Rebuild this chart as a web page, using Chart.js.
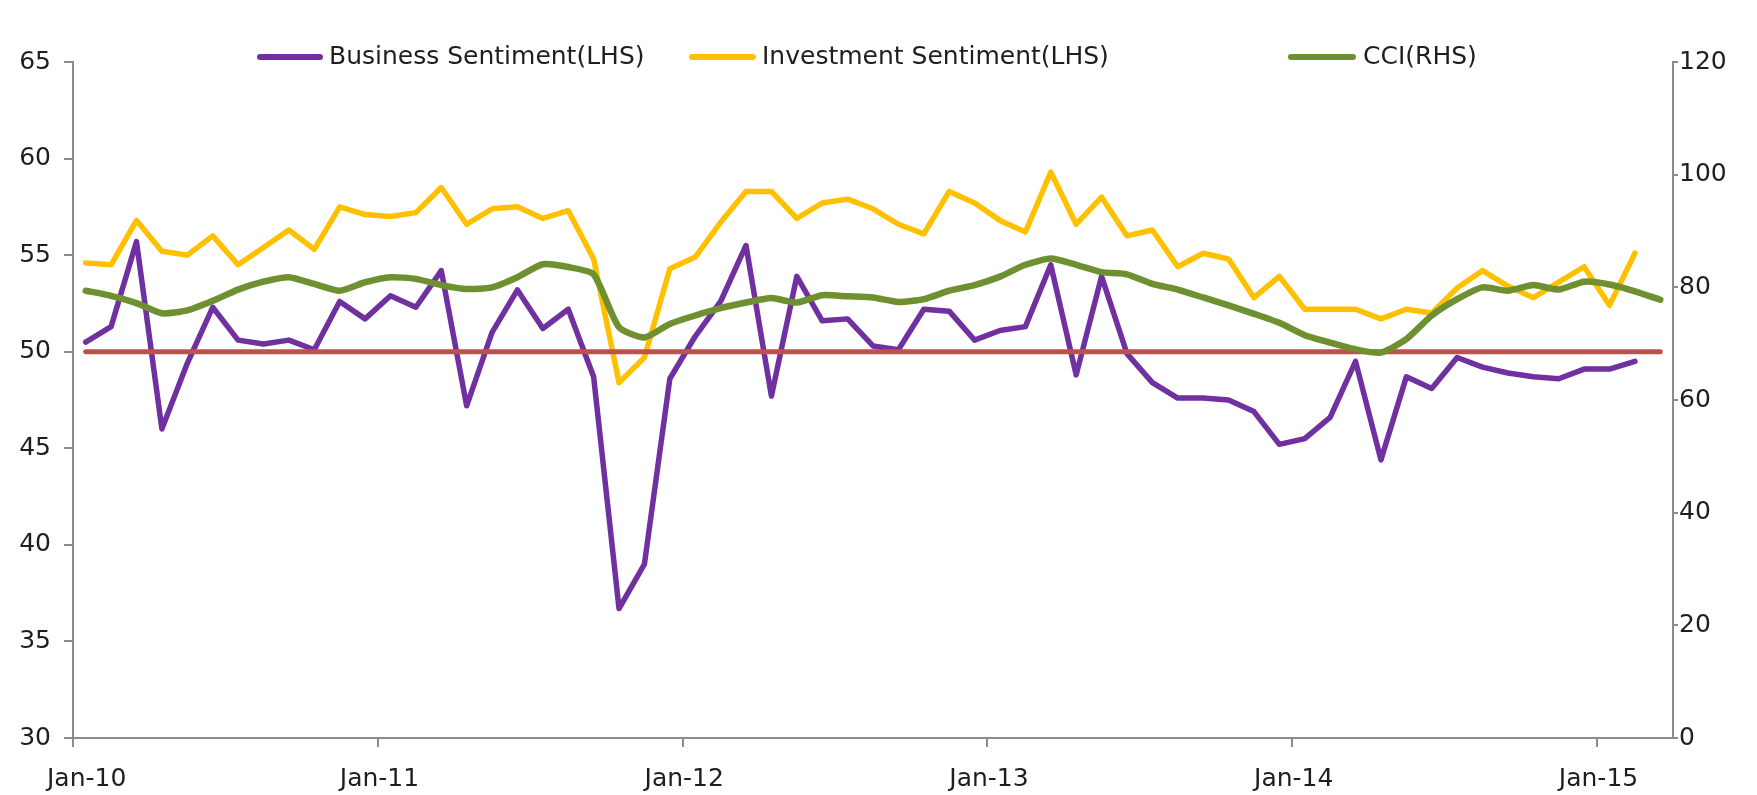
<!DOCTYPE html>
<html>
<head>
<meta charset="utf-8">
<title>Sentiment indices</title>
<script src="https://cdn.jsdelivr.net/npm/chart.js@4.4.1/dist/chart.umd.min.js"></script>
<style>
  html, body { margin: 0; padding: 0; background: #fff; }
  #wrap { width: 1757px; height: 795px; position: relative; }
</style>
</head>
<body>
<div id="wrap"><canvas id="sentimentChart"></canvas></div>
<script>
// months Jan-10 .. Mar-15
const monthNames = ['Jan', 'Feb', 'Mar', 'Apr', 'May', 'Jun', 'Jul', 'Aug', 'Sep', 'Oct', 'Nov', 'Dec'];
const yearCodes = ['10', '11', '12', '13', '14', '15'];
const months = [];
yearCodes.forEach(y => monthNames.forEach(m => months.push(m + '-' + y)));
months.splice(months.indexOf('Mar-15') + 1);

const businessSentiment = [
  50.5, 51.3, 55.7, 46.0, 49.4, 52.3, 50.6, 50.4, 50.6, 50.1,
  52.6, 51.7, 52.9, 52.3, 54.2, 47.2, 51.0, 53.2, 51.2, 52.2,
  48.7, 36.7, 39.0, 48.6, 50.8, 52.6, 55.5, 47.7, 53.9, 51.6,
  51.7, 50.3, 50.1, 52.2, 52.1, 50.6, 51.1, 51.3, 54.5, 48.8,
  53.9, 49.9, 48.4, 47.6, 47.6, 47.5, 46.9, 45.2, 45.5, 46.6,
  49.5, 44.4, 48.7, 48.1, 49.7, 49.2, 48.9, 48.7, 48.6, 49.1,
  49.1, 49.5
];

const investmentSentiment = [
  54.6, 54.5, 56.8, 55.2, 55.0, 56.0, 54.5, 55.4, 56.3, 55.3,
  57.5, 57.1, 57.0, 57.2, 58.5, 56.6, 57.4, 57.5, 56.9, 57.3,
  54.8, 48.4, 49.7, 54.3, 54.9, 56.7, 58.3, 58.3, 56.9, 57.7,
  57.9, 57.4, 56.6, 56.1, 58.3, 57.7, 56.8, 56.2, 59.3, 56.6,
  58.0, 56.0, 56.3, 54.4, 55.1, 54.8, 52.8, 53.9, 52.2, 52.2,
  52.2, 51.7, 52.2, 52.0, 53.3, 54.2, 53.4, 52.8, 53.6, 54.4,
  52.4, 55.1
];

const cci = [
  79.4, 78.5, 77.2, 75.4, 75.9, 77.6, 79.6, 81.0, 81.8, 80.6,
  79.4, 80.9, 81.8, 81.5, 80.4, 79.7, 80.0, 81.8, 84.1, 83.6,
  82.3, 72.9, 71.1, 73.5, 75.0, 76.3, 77.3, 78.1, 77.3, 78.6,
  78.4, 78.2, 77.4, 77.9, 79.4, 80.4, 81.9, 84.0, 85.1, 84.0,
  82.7, 82.3, 80.6, 79.6, 78.2, 76.8, 75.3, 73.7, 71.5, 70.2,
  69.0, 68.4, 70.8, 75.0, 77.9, 80.0, 79.4, 80.4, 79.6, 81.0,
  80.5, 79.3, 77.8
];

// expansion / contraction threshold
const neutralLevel = 50;

const leftTicks = [30, 35, 40, 45, 50, 55, 60, 65];
const rightTicks = [0, 20, 40, 60, 80, 100, 120];

const PURPLE = '#7030a0';
const GOLD = '#ffc000';
const OLIVE = '#6f9030';
const RED = '#c0504d';
const AXIS = '#8c8c8c';
const TEXT = '#1e1e1e';
const FONT = { family: 'DejaVu Sans', size: 25 };

// legend laid out like the Excel original: fixed slots, fixed order
const legendOrder = ['Business Sentiment(LHS)', 'Investment Sentiment(LHS)', 'CCI(RHS)'];
const legendSlots = [
  { lineFrom: 260, lineTo: 320, textX: 329 },
  { lineFrom: 692, lineTo: 753, textX: 762 },
  { lineFrom: 1291, lineTo: 1353, textX: 1363 }
];

const excelLegend = {
  id: 'excelLegend',
  afterDraw(chart) {
    const ctx = chart.ctx;
    const y = 57;
    legendOrder.forEach((name, k) => {
      const ds = chart.data.datasets.find(d => d.label === name);
      const s = legendSlots[k];
      ctx.save();
      ctx.strokeStyle = ds.borderColor;
      ctx.lineWidth = 6;
      ctx.lineCap = 'round';
      ctx.beginPath();
      ctx.moveTo(s.lineFrom, y);
      ctx.lineTo(s.lineTo, y);
      ctx.stroke();
      ctx.fillStyle = TEXT;
      ctx.font = FONT.size + 'px ' + FONT.family;
      ctx.textBaseline = 'middle';
      ctx.fillText(ds.label, s.textX, y);
      ctx.restore();
    });
  }
};

new Chart(document.getElementById('sentimentChart'), {
  type: 'line',
  data: {
    labels: months,
    datasets: [
      {
        label: 'CCI(RHS)',
        data: cci,
        yAxisID: 'y1',
        borderColor: OLIVE,
        borderWidth: 6.5,
        tension: 0.2,
        order: 0
      },
      {
        label: '',
        data: months.map(() => neutralLevel),
        yAxisID: 'y',
        borderColor: RED,
        borderWidth: 5,
        order: 1
      },
      {
        label: 'Business Sentiment(LHS)',
        data: businessSentiment,
        yAxisID: 'y',
        borderColor: PURPLE,
        borderWidth: 5.5,
        order: 2
      },
      {
        label: 'Investment Sentiment(LHS)',
        data: investmentSentiment,
        yAxisID: 'y',
        borderColor: GOLD,
        borderWidth: 5.5,
        order: 3
      }
    ]
  },
  options: {
    responsive: true,
    maintainAspectRatio: false,
    animation: false,
    devicePixelRatio: 1,
    layout: { padding: { top: 62, left: 0, right: 0, bottom: 0 } },
    elements: {
      point: { radius: 0 },
      line: { tension: 0, borderJoinStyle: 'round', borderCapStyle: 'round' }
    },
    plugins: {
      legend: { display: false },
      tooltip: { enabled: false }
    },
    scales: {
      x: {
        type: 'category',
        offset: true,
        afterFit: s => { s.height = 57; },
        grid: {
          offset: true,
          drawOnChartArea: false,
          tickLength: 9,
          lineWidth: 2,
          color: c => (months[c.index] && months[c.index].startsWith('Jan')) ? AXIS : 'rgba(0,0,0,0)'
        },
        border: { color: AXIS, width: 2 },
        ticks: {
          autoSkip: false,
          maxRotation: 0,
          padding: 17,
          labelOffset: -11,
          color: TEXT,
          font: FONT,
          callback: function (v, i) {
            const lab = this.getLabelForValue(v);
            if (!lab.startsWith('Jan')) return '';
            // first label is nudged inside the plot, as Excel does
            return i === 0 ? '   ' + lab : lab;
          }
        }
      },
      y: {
        position: 'left',
        min: leftTicks[0],
        max: leftTicks[leftTicks.length - 1],
        afterFit: s => { s.width = 73; },
        afterBuildTicks: s => { s.ticks = leftTicks.map(v => ({ value: v })); },
        grid: { drawOnChartArea: false, tickLength: 9, lineWidth: 2, color: AXIS },
        border: { color: AXIS, width: 2 },
        ticks: { padding: 13, color: TEXT, font: FONT }
      },
      y1: {
        position: 'right',
        min: rightTicks[0],
        max: rightTicks[rightTicks.length - 1],
        afterFit: s => { s.width = 84; },
        afterBuildTicks: s => { s.ticks = rightTicks.map(v => ({ value: v })); },
        grid: { drawOnChartArea: false, tickLength: 5, lineWidth: 2, color: AXIS },
        border: { color: AXIS, width: 2 },
        ticks: { padding: 1, color: TEXT, font: FONT }
      }
    }
  },
  plugins: [excelLegend]
});
</script>
</body>
</html>
